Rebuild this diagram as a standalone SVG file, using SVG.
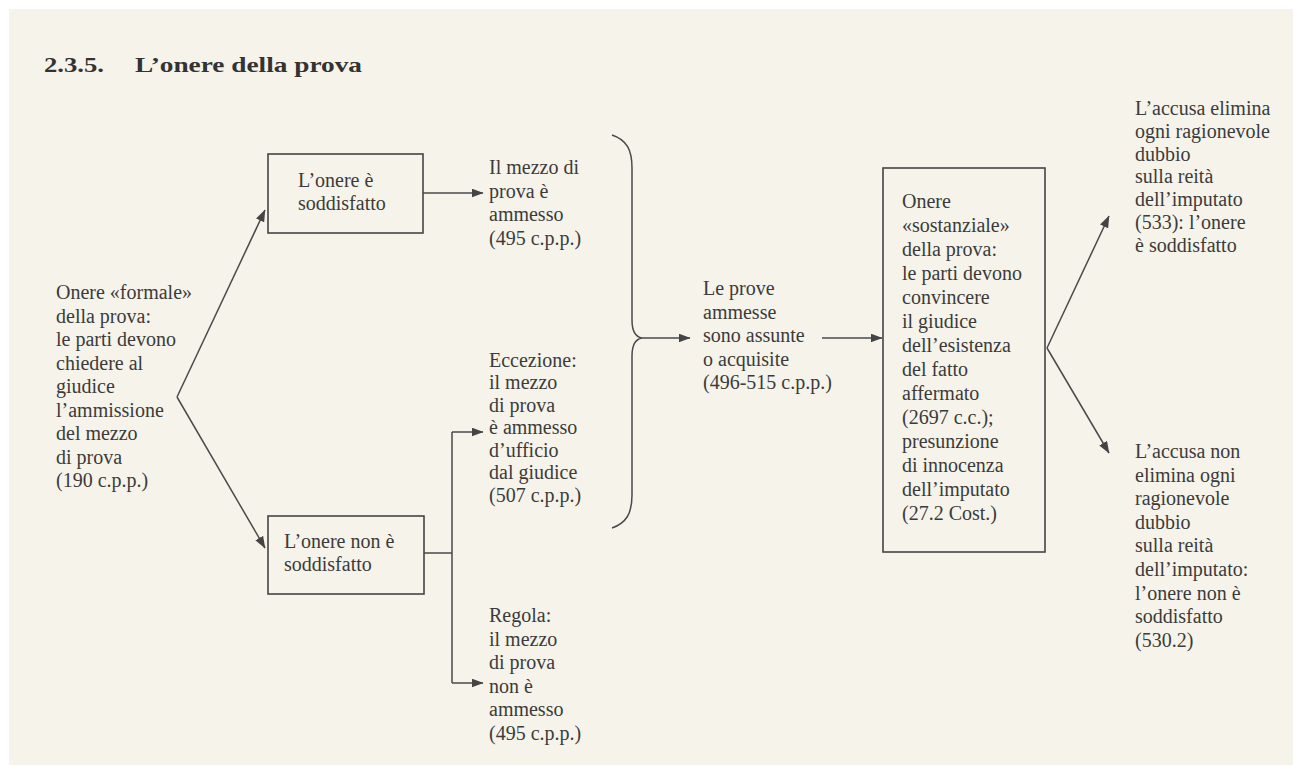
<svg xmlns="http://www.w3.org/2000/svg" width="1293" height="766" viewBox="0 0 1293 766">
  <style>
    .t { font-family: "Liberation Serif", "DejaVu Serif", serif; font-size: 20px; fill: #3b3b3b; }
    .title { font-family: "Liberation Serif", "DejaVu Serif", serif; font-size: 22px; font-weight: bold; fill: #333; }
    .box { fill: none; stroke: #444; stroke-width: 1.6; }
    .ln { fill: none; stroke: #4a4a4a; stroke-width: 1.5; }
  </style>
  <defs>
    <marker id="ah" markerUnits="userSpaceOnUse" markerWidth="12" markerHeight="9" refX="11.5" refY="4.5" orient="auto">
      <path d="M0,0 L12,4.5 L0,9 z" fill="#444"/>
    </marker>
  </defs>

  <!-- paper -->
  <rect x="0" y="0" width="1293" height="766" fill="#ffffff"/>
  <rect x="9" y="9" width="1284" height="756" fill="#f6f3ea"/>

  <!-- heading -->
  <g id="heading">
    <text class="title" x="44" y="72" textLength="60" lengthAdjust="spacingAndGlyphs">2.3.5.</text>
    <text class="title" x="135" y="72" textLength="227" lengthAdjust="spacingAndGlyphs">L’onere della prova</text>
  </g>

  <!-- connectors -->
  <g id="connectors">
    <path class="ln" d="M177,397 L265,210" marker-end="url(#ah)"/>
    <path class="ln" d="M177,397 L265,548" marker-end="url(#ah)"/>
    <path class="ln" d="M423,193 H483" marker-end="url(#ah)"/>
    <path class="ln" d="M424,553 H452 M452,432 V683"/>
    <path class="ln" d="M452,432 H483" marker-end="url(#ah)"/>
    <path class="ln" d="M452,683 H483" marker-end="url(#ah)"/>
    <path class="ln" stroke-width="1.8" d="M612,135 C627,140 632,150 632,168 L632,320 C632,332 636,337 642,338 C636,339 632,344 632,356 L632,495 C632,514 626,523 612,528"/>
    <path class="ln" d="M642,338 H690" marker-end="url(#ah)"/>
    <path class="ln" d="M822,338 H882" marker-end="url(#ah)"/>
    <path class="ln" d="M1047,348 L1109,216" marker-end="url(#ah)"/>
    <path class="ln" d="M1047,348 L1109,453" marker-end="url(#ah)"/>
  </g>

  <g id="n-formale">
    <text class="t" x="56" y="299">Onere «formale»</text>
    <text class="t" x="56" y="322.5">della prova:</text>
    <text class="t" x="56" y="346">le parti devono</text>
    <text class="t" x="56" y="369.5">chiedere al</text>
    <text class="t" x="56" y="393">giudice</text>
    <text class="t" x="56" y="416.5">l’ammissione</text>
    <text class="t" x="56" y="440">del mezzo</text>
    <text class="t" x="56" y="463.5">di prova</text>
    <text class="t" x="56" y="487">(190 c.p.p.)</text>
  </g>

  <g id="n-soddisfatto">
    <rect class="box" x="268" y="154" width="155" height="79"/>
    <text class="t" x="298" y="187">L’onere è</text>
    <text class="t" x="298" y="210">soddisfatto</text>
  </g>

  <g id="n-non-soddisfatto">
    <rect class="box" x="268" y="516" width="156" height="78"/>
    <text class="t" x="284" y="548">L’onere non è</text>
    <text class="t" x="284" y="571">soddisfatto</text>
  </g>

  <g id="n-ammesso">
    <text class="t" x="489" y="174">Il mezzo di</text>
    <text class="t" x="489" y="197.5">prova è</text>
    <text class="t" x="489" y="221">ammesso</text>
    <text class="t" x="489" y="244.5">(495 c.p.p.)</text>
  </g>

  <g id="n-eccezione">
    <text class="t" x="489" y="366.5">Eccezione:</text>
    <text class="t" x="489" y="389">il mezzo</text>
    <text class="t" x="489" y="411.5">di prova</text>
    <text class="t" x="489" y="434">è ammesso</text>
    <text class="t" x="489" y="456.5">d’ufficio</text>
    <text class="t" x="489" y="479">dal giudice</text>
    <text class="t" x="489" y="501.5">(507 c.p.p.)</text>
  </g>

  <g id="n-regola">
    <text class="t" x="489" y="622">Regola:</text>
    <text class="t" x="489" y="645.5">il mezzo</text>
    <text class="t" x="489" y="669">di prova</text>
    <text class="t" x="489" y="692.5">non è</text>
    <text class="t" x="489" y="716">ammesso</text>
    <text class="t" x="489" y="739.5">(495 c.p.p.)</text>
  </g>

  <g id="n-assunte">
    <text class="t" x="703" y="295">Le prove</text>
    <text class="t" x="703" y="318.5">ammesse</text>
    <text class="t" x="703" y="342">sono assunte</text>
    <text class="t" x="703" y="365.5">o acquisite</text>
    <text class="t" x="703" y="389">(496-515 c.p.p.)</text>
  </g>

  <g id="n-sostanziale">
    <rect class="box" x="883" y="168" width="162" height="384"/>
    <text class="t" x="902" y="208">Onere</text>
    <text class="t" x="902" y="232">«sostanziale»</text>
    <text class="t" x="902" y="256">della prova:</text>
    <text class="t" x="902" y="280">le parti devono</text>
    <text class="t" x="902" y="304">convincere</text>
    <text class="t" x="902" y="328">il giudice</text>
    <text class="t" x="902" y="352">dell’esistenza</text>
    <text class="t" x="902" y="376">del fatto</text>
    <text class="t" x="902" y="400">affermato</text>
    <text class="t" x="902" y="424">(2697 c.c.);</text>
    <text class="t" x="902" y="448">presunzione</text>
    <text class="t" x="902" y="472">di innocenza</text>
    <text class="t" x="902" y="496">dell’imputato</text>
    <text class="t" x="902" y="520">(27.2 Cost.)</text>
  </g>

  <g id="n-elimina">
    <text class="t" x="1135" y="115">L’accusa elimina</text>
    <text class="t" x="1135" y="137.8">ogni ragionevole</text>
    <text class="t" x="1135" y="160.6">dubbio</text>
    <text class="t" x="1135" y="183.4">sulla reità</text>
    <text class="t" x="1135" y="206.2">dell’imputato</text>
    <text class="t" x="1135" y="229">(533): l’onere</text>
    <text class="t" x="1135" y="251.8">è soddisfatto</text>
  </g>

  <g id="n-non-elimina">
    <text class="t" x="1135" y="458">L’accusa non</text>
    <text class="t" x="1135" y="481.6">elimina ogni</text>
    <text class="t" x="1135" y="505.2">ragionevole</text>
    <text class="t" x="1135" y="528.8">dubbio</text>
    <text class="t" x="1135" y="552.4">sulla reità</text>
    <text class="t" x="1135" y="576">dell’imputato:</text>
    <text class="t" x="1135" y="599.6">l’onere non è</text>
    <text class="t" x="1135" y="623.2">soddisfatto</text>
    <text class="t" x="1135" y="646.8">(530.2)</text>
  </g>
</svg>
